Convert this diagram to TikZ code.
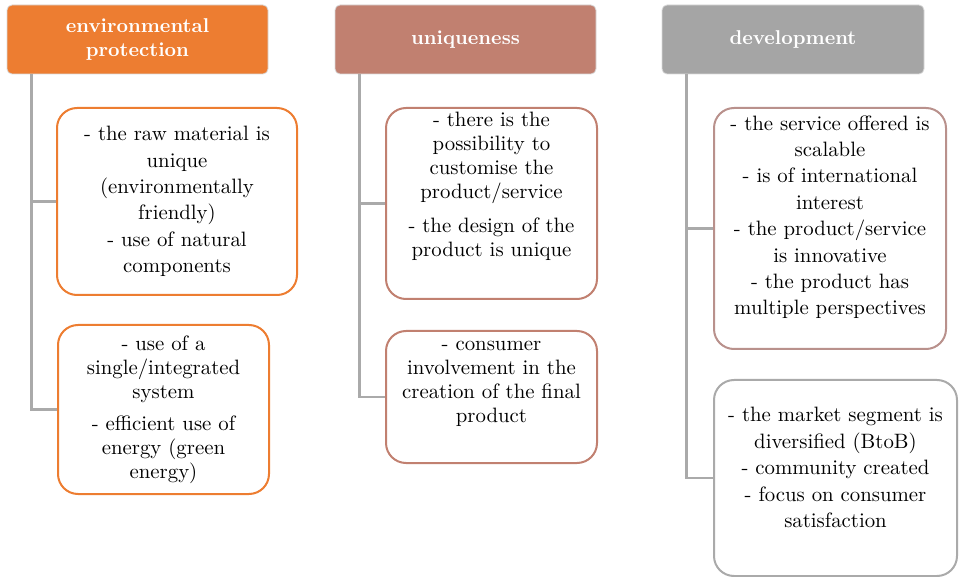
\documentclass[tikz,border=0pt]{standalone}
\usetikzlibrary{positioning}
\definecolor{envorange}{RGB}{237,125,49}
\definecolor{uniqrose}{RGB}{193,128,112}
\definecolor{devgray}{RGB}{165,165,165}
\definecolor{devrose}{RGB}{185,145,140}
\definecolor{linegray}{RGB}{170,170,170}

\begin{document}
\begin{tikzpicture}[x=0.5pt, y=-0.5pt,
	head/.style={rectangle, rounded corners=2.5pt, draw=black!15, line width=0.4pt,
		minimum width=130.5pt, minimum height=34.5pt, inner sep=0pt, align=center,
		text=white, font=\fontsize{10}{12}\selectfont\bfseries},
	item/.style={rectangle, rounded corners=10pt, line width=1pt, fill=white, minimum width=105.5pt},
	txt/.style={inner sep=0pt, align=center, font=\fontsize{10.4}{13.2}\selectfont},
	tight/.style={font=\fontsize{10.4}{12}\selectfont},
	conn/.style={linegray, line width=1.3pt}]
		\useasboundingbox (0,0) rectangle (959,577);
		% headers
		\node[head, fill=envorange] (head1) at (137.5,39.5) {environmental\\protection};
		\node[head, fill=uniqrose] (head2) at (465.5,39.5) {uniqueness};
		\node[head, fill=devgray, minimum width=131pt] (head3) at (793,39.5) {development};
		% boxes
		\node[item, draw=envorange, minimum width=120pt, minimum height=93.5pt] (upper1) at (177,201.5) {};
		\node[item, draw=envorange, minimum height=84.5pt] (lower1) at (163.5,409.5) {};
		\node[item, draw=uniqrose, minimum height=95.5pt] (upper2) at (491.5,203.5) {};
		\node[item, draw=uniqrose, minimum height=66pt] (lower2) at (491.5,397) {};
		\node[item, draw=devrose, minimum width=116pt, minimum height=120.5pt] (upper3) at (830,228.5) {};
		\node[item, draw=linegray, minimum width=121.5pt, minimum height=98pt] (lower3) at (835.5,478) {};
		\foreach \col in {1,2,3}{
		\coordinate (s\col) at ([xshift=12.5pt]head\col.south west);
		\draw[conn] (s\col) |- (lower\col.west);
		\draw[conn] (s\col |- upper\col.west) -- (upper\col.west);}
		% texts
		\node[txt] (t1a) at (upper1) {- the raw material is\\unique\\(environmentally\\friendly)\\- use of natural\\components};
		\node[txt, tight] (t1b) at (lower1) {- use of a\\single/integrated\\system\\[4pt]- efficient use of\\energy (green\\energy)};
		\node[txt, tight, below=2.5pt of upper2.north] (t2a) {- there is the\\possibility to\\customise the\\product/service\\[5pt]- the design of the\\product is unique};
		\node[txt, tight, below=5.5pt of lower2.north] (t2b) {- consumer\\involvement in the\\creation of the final\\product};
		\node[txt, below=4pt of upper3.north] (t3a) {- the service offered is\\scalable\\- is of international\\interest\\- the product/service\\is innovative\\- the product has\\multiple perspectives};
		\node[txt, below=14pt of lower3.north] (t3b) {- the market segment is\\diversified (BtoB)\\- community created\\- focus on consumer\\satisfaction};
		\end{tikzpicture}
\end{document}
